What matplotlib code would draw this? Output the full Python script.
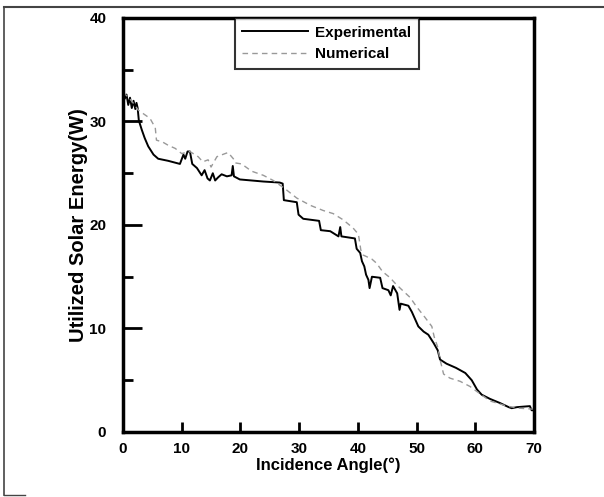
import matplotlib.pyplot as plt
from matplotlib.lines import Line2D

plt.rcParams['font.family'] = ['Liberation Sans', 'DejaVu Sans']
plt.rcParams['font.weight'] = 'bold'

exp_angle = [0, 0.3, 0.6, 0.9, 1.2, 1.5, 1.8, 2.1, 2.3, 2.5, 2.7, 3.2, 3.7, 4.3, 5.2,
             6.0, 7.7, 9.7, 10.3, 10.6, 11.0, 11.4, 11.8, 12.6, 13.4, 13.9, 14.4, 14.8,
             15.3, 15.7, 16.2, 16.8, 17.7, 18.5, 18.7, 18.9, 19.9, 23.9, 26.7, 27.2,
             27.4, 29.6, 29.9, 30.7, 33.4, 33.7, 35.3, 36.7, 37.0, 37.2, 39.5, 39.8,
             40.4, 40.7, 41.1, 41.4, 41.8, 42.0, 42.4, 43.8, 44.2, 45.2, 45.6, 46.0,
             46.7, 47.1, 47.3, 48.6, 49.2, 50.3, 51.2, 52.0, 52.9, 53.6, 54.0, 55.1,
             56.7, 58.3, 59.4, 60.3, 61.1, 62.5, 64.2, 65.7, 66.2, 67.1, 69.3, 69.6, 70]
exp_energy = [33.2, 32.2, 32.6, 31.6, 32.3, 31.3, 32.0, 31.2, 31.8, 31.3, 30.1, 29.2, 28.4,
              27.6, 26.8, 26.4, 26.2, 25.9, 26.8, 26.4, 27.1, 27.1, 25.9, 25.5, 24.8, 25.3,
              24.5, 24.3, 25.0, 24.3, 24.6, 24.9, 24.7, 24.8, 25.7, 24.7, 24.4, 24.2,
              24.1, 24.0, 22.4, 22.2, 21.0, 20.6, 20.4, 19.5, 19.4, 18.9, 19.8, 18.9,
              18.7, 17.7, 17.3, 16.5, 16.0, 15.2, 14.7, 13.9, 15.0, 14.9, 13.9, 13.7,
              13.2, 14.1, 13.4, 11.8, 12.4, 12.2, 11.6, 10.2, 9.7, 9.4, 8.6, 7.9, 7.0,
              6.6, 6.2, 5.7, 5.0, 4.1, 3.6, 3.2, 2.8, 2.4, 2.3, 2.4, 2.5, 2.1, 2.1]

num_angle = [0, 1.0, 2.0, 2.6, 4.6, 5.5, 5.7, 6.8, 7.7, 8.9, 10.0, 11.4, 12.8, 13.6, 14.5,
             15.0, 15.4, 16.0, 17.4, 17.9, 18.8, 19.1, 20.2, 21.9, 23.9, 25.6, 27.6,
             29.6, 31.9, 34.1, 35.8, 37.5, 39.2, 40.1, 40.5, 40.9, 42.4, 43.2, 44.2,
             45.5, 46.3, 47.2, 48.9, 50.0, 51.4, 52.6, 53.0, 53.6, 54.0, 54.6, 55.7,
             57.4, 59.1, 60.3, 62.5, 65.4, 67.5, 70]
num_energy = [32.8, 32.3, 31.6, 31.1, 30.3, 29.4, 28.2, 28.0, 27.7, 27.4, 26.9, 27.1, 26.6,
              26.1, 26.3, 25.6, 26.0, 26.6, 26.9, 27.0, 26.4, 26.0, 25.9, 25.2, 24.8,
              24.3, 23.5, 22.6, 21.9, 21.4, 21.1, 20.5, 19.7, 19.1, 17.6, 17.1, 16.7,
              16.3, 15.5, 14.9, 14.4, 13.9, 13.0, 12.1, 11.1, 10.2, 9.2, 8.2, 7.0, 5.6,
              5.2, 4.9, 4.4, 3.9, 3.0, 2.5, 2.3, 2.2]

fig = plt.figure(figsize=(6.04, 4.97), dpi=100)
ax = fig.add_axes([0.2036, 0.1308, 0.6805, 0.833])

ax.plot(exp_angle, exp_energy, color='black', lw=1.4, label='Experimental')
ax.plot(num_angle, num_energy, color='#999999', lw=1.0, ls=(0, (4, 3)), label='Numerical')

ax.set_xlim(0, 70)
ax.set_ylim(0, 40)
ax.set_xticks(range(0, 71, 10))
ax.set_xticks([20, 40, 60], minor=True)
ax.set_yticks(range(0, 41, 10))
ax.set_yticks([5, 15, 25, 35], minor=True)
ax.tick_params(axis='x', which='major', direction='in', length=7, width=2,
               labelsize=11, pad=7)
ax.tick_params(axis='x', which='minor', direction='in', length=14, width=2)
ax.tick_params(axis='y', which='major', direction='in', length=14, width=2,
               labelsize=11, pad=12)
ax.tick_params(axis='y', which='minor', direction='in', length=7, width=2)
for s in ax.spines.values():
    s.set_linewidth(2.5)

ax.set_xlabel('Incidence Angle(°)', fontsize=12, fontweight='bold', labelpad=1)
ax.set_ylabel('Utilized Solar Energy(W)', fontsize=14.5, fontweight='bold', labelpad=1)

leg = ax.legend(loc='upper left', bbox_to_anchor=(0.272, 1.0), fontsize=11,
                handlelength=4.3, handletextpad=0.45, frameon=True, fancybox=False,
                borderaxespad=0, borderpad=0.5, labelspacing=0.5)
leg.get_frame().set_edgecolor('black')
leg.get_frame().set_linewidth(1.5)

# outer frame of the original figure
fig.add_artist(Line2D([4 / 604, 1.0], [1 - 7 / 497, 1 - 7 / 497], color='#444444', lw=1.5))
fig.add_artist(Line2D([4 / 604, 4 / 604], [1 - 7 / 497, 1 - 495 / 497], color='#444444', lw=1.2))
fig.add_artist(Line2D([4 / 604, 25 / 604], [1 - 495 / 497, 1 - 495 / 497], color='#444444', lw=1.0))

fig.savefig('out.png', dpi=100)
